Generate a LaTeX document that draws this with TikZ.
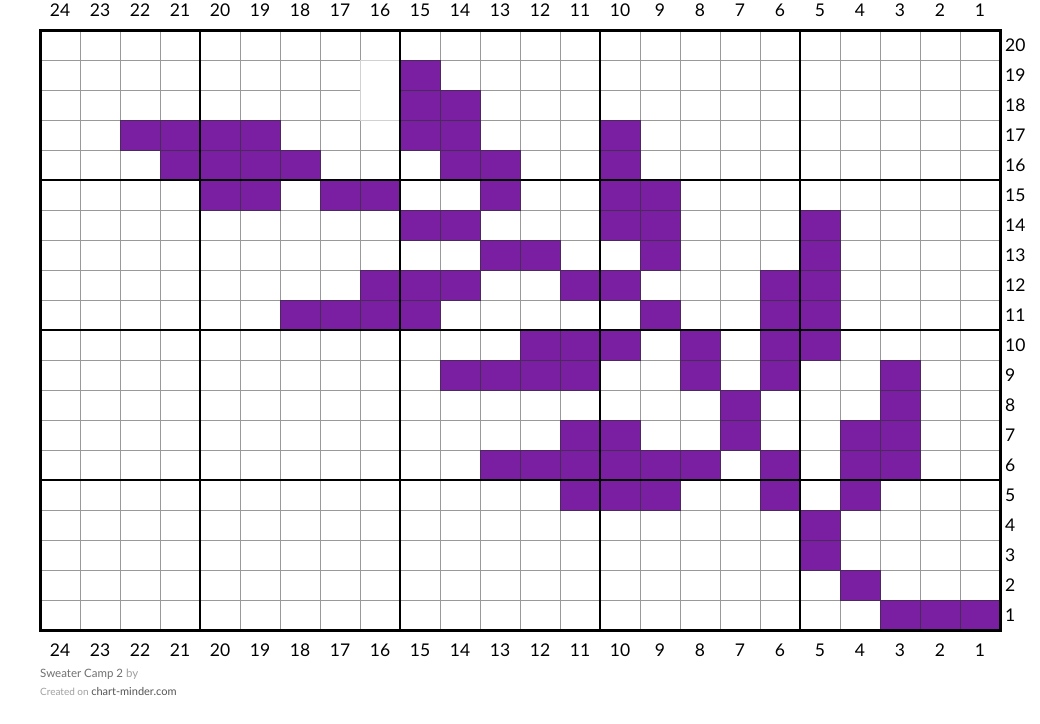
\documentclass[tikz,border=0pt]{standalone}
\usepackage{fontspec}
\setmainfont{Lato}
\definecolor{purp}{HTML}{7B1FA2}
\definecolor{gridgray}{HTML}{999999}
\definecolor{celledge}{HTML}{4A2A5A}
\definecolor{footdark}{HTML}{555555}
\definecolor{footmid}{HTML}{707070}
\definecolor{footlight}{HTML}{A0A0A0}
\tikzset{
  gridthin/.style={draw=gridgray, line width=1pt},
  gridthick/.style={draw=black, line width=2pt},
  cell/.style={fill=purp, draw=celledge, line width=0.8pt},
  numlabel/.style={font=\fontsize{17.5}{20}\selectfont, inner sep=0pt},
}
\begin{document}
\begin{tikzpicture}[x=1pt,y=-1pt]
\useasboundingbox (0,0) rectangle (1040,723);
\fill[white] (0,0) rectangle (1040,723);
% thin grid
\foreach \i in {0,...,24} \draw[gridthin] ({40+\i*40},30) -- ({40+\i*40},630);
\foreach \j in {0,...,20} \draw[gridthin] (40,{30+\j*30}) -- (1000,{30+\j*30});
% odd patch in column 16, rows 19-18
\fill[white] (360.6,60.6) rectangle (399.4,119.4);
\draw[draw=gridgray!45, line width=1pt] (360,60) -- (400,60) (360,60) -- (360,120) -- (400,120);
% filled cells: row / columns
\foreach \r/\cs in {
  19/{15},
  18/{15,14},
  17/{22,21,20,19,15,14,10},
  16/{21,20,19,18,14,13,10},
  15/{20,19,17,16,13,10,9},
  14/{15,14,10,9,5},
  13/{13,12,9,5},
  12/{16,15,14,11,10,6,5},
  11/{18,17,16,15,9,6,5},
  10/{12,11,10,8,6,5},
  9/{14,13,12,11,8,6,3},
  8/{7,3},
  7/{11,10,7,4,3},
  6/{13,12,11,10,9,8,6,4,3},
  5/{11,10,9,6,4},
  4/{5},
  3/{5},
  2/{4},
  1/{3,2,1}}
  \foreach \c in \cs
    \filldraw[cell] ({40+(24-\c)*40},{30+(20-\r)*30}) rectangle +(40,30);
% thick lines
\foreach \x in {200,400,600,800} \draw[gridthick] (\x,30) -- (\x,630);
\foreach \y in {180,330,480} \draw[gridthick] (40,\y) -- (1000,\y);
\draw[draw=black, line width=3pt] (40,30) rectangle (1000,630);
% column labels
\foreach \c in {1,...,24} {
  \node[numlabel, anchor=base] (top\c) at ({40+(24-\c)*40+20},16.5) {\c};
  \node[numlabel, anchor=base] (bot\c) at ({40+(24-\c)*40+20},656.5) {\c};
}
% row labels
\foreach \r in {1,...,20}
  \node[numlabel, anchor=west] (row\r) at (1005,{30+(20-\r)*30+15}) {\r};
% footer
\node[anchor=base west, inner sep=0pt, font=\fontsize{11.5}{13}\selectfont] (title) at (40,677)
  {\textcolor{footmid}{Sweater Camp 2} \textcolor{footlight}{by}};
\node[anchor=base west, inner sep=0pt] (credit) at (40,695.5)
  {\fontsize{10}{12}\selectfont\textcolor{footlight}{Created on} \fontsize{11}{13}\selectfont\textcolor{footdark}{chart-minder.com}};
\end{tikzpicture}
\end{document}
